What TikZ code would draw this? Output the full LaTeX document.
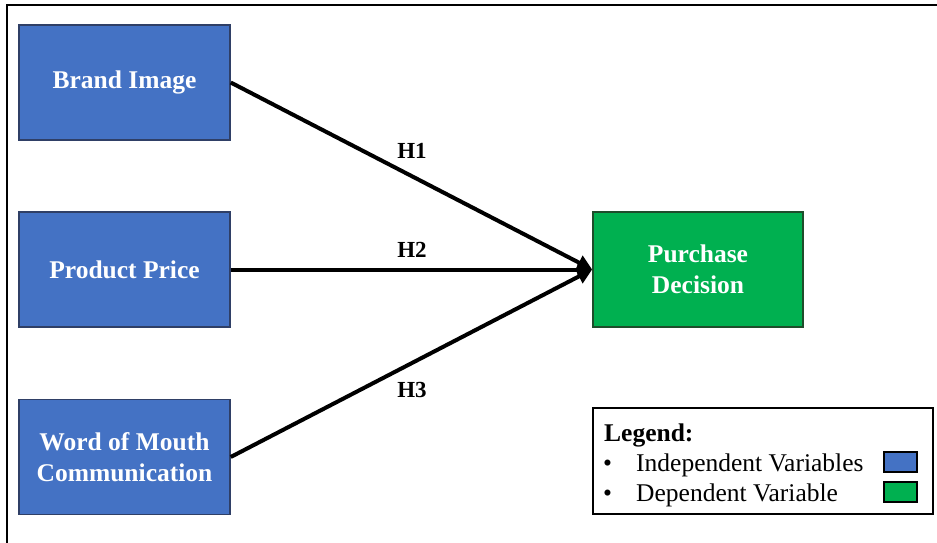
\documentclass[tikz,border=0pt]{standalone}
\usepackage{fontspec}
\setmainfont{Liberation Serif}
\usetikzlibrary{arrows.meta}
\definecolor{ivblue}{HTML}{4472C4}
\definecolor{ivedge}{HTML}{2F3F66}
\definecolor{dvgreen}{HTML}{00B050}
\definecolor{dvedge}{HTML}{1E4D2B}
\tikzset{
  varbox/.style={draw, line width=1.5pt, minimum width=211pt, minimum height=115pt,
    inner sep=0pt, align=center, text=white, font=\fontsize{25.5}{31}\selectfont\bfseries},
  indep/.style={varbox, fill=ivblue, draw=ivedge},
  dep/.style={varbox, fill=dvgreen, draw=dvedge, minimum width=210pt},
  hyp/.style={line width=4pt, -{Triangle[length=15pt,width=15pt]}},
  hlabel/.style={font=\fontsize{23}{28}\selectfont\bfseries},
  legtext/.style={anchor=base west, inner sep=0pt, font=\fontsize{25.5}{31}\selectfont},
  swatch/.style={draw, line width=1.2pt, minimum width=33pt, minimum height=20pt, inner sep=0pt}
}
\begin{document}
\begin{tikzpicture}[x=1pt,y=-1pt]
\useasboundingbox (0,0) rectangle (937,543);
% frame
\draw[line width=1.8pt] (7,543) -- (7,5) -- (937,5);
% boxes
\node[indep] (bi) at (124.5,82.5) {\raisebox{-3pt}{Brand Image}};
\node[indep] (pp) at (124.5,269.5) {\raisebox{-2pt}{Product Price}};
\node[indep] (wom) at (124.5,457) {Word of Mouth\\Communication};
\node[dep] (pd) at (698,269.5) {Purchase\\Decision};
% arrows
\draw[hyp] (bi.east) -- (pd.west);
\draw[hyp] (pp.east) -- (pd.west);
\draw[hyp] (wom.east) -- (pd.west);
% labels
\node[hlabel] (h1) at (412,151) {H1};
\node[hlabel] (h2) at (412,250) {H2};
\node[hlabel] (h3) at (412,390) {H3};
% legend
\node[draw, line width=1.2pt, minimum width=340pt, minimum height=106pt, inner sep=0pt] (leg) at (763,461) {};
\node[legtext, font=\fontsize{25.5}{31}\selectfont\bfseries] (legt) at (604,441) {Legend:};
\node[legtext] (b1) at (603,471) {•};
\node[legtext] (l1) at (636,471) {Independent Variables};
\node[legtext] (b2) at (603,501) {•};
\node[legtext] (l2) at (636,501) {Dependent Variable};
\node[swatch, fill=ivblue] (s1) at (900.5,462) {};
\node[swatch, fill=dvgreen] (s2) at (900.5,492) {};
\end{tikzpicture}
\end{document}
